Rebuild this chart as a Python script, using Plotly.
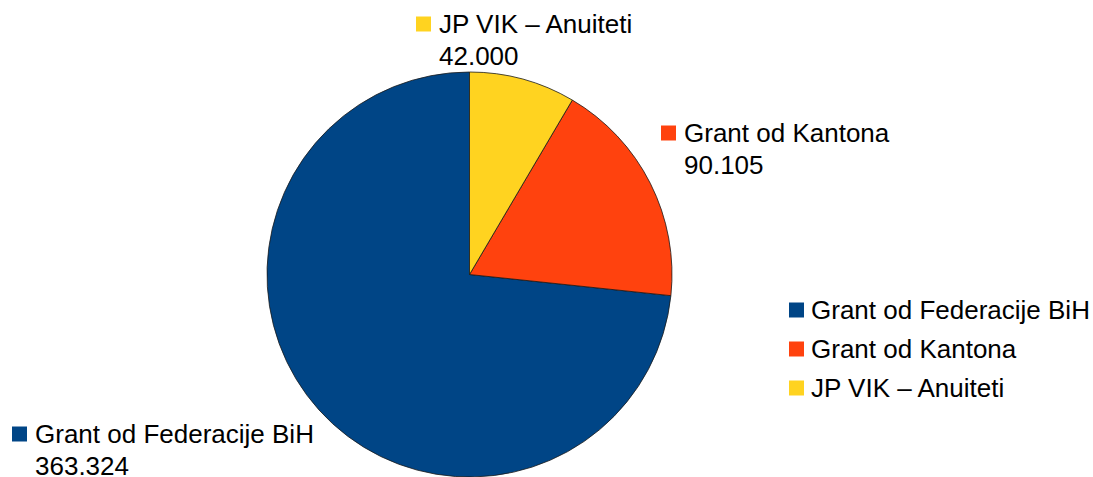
import plotly.graph_objects as go

# ---- data ----
labels = ["Grant od Federacije BiH", "Grant od Kantona", "JP VIK – Anuiteti"]
values = [363324, 90105, 42000]
colors = ["#004586", "#ff420e", "#ffd320"]

# ---- layout helpers ----
W, H = 1093, 477
FONT = "Liberation Sans, Arial, sans-serif"
FS = 26
SQ = 15


def fx(x):
    return x / W


def fy(y):
    return 1 - y / H


def fmt(v):
    return f"{v:,}".replace(",", ".")


# first (largest) slice ends where the smaller ones begin at 12 o'clock
start_angle = 360 * (values[1] + values[2]) / sum(values)

fig = go.Figure(
    go.Pie(
        labels=labels,
        values=values,
        sort=False,
        direction="counterclockwise",
        rotation=start_angle,
        marker=dict(colors=colors, line=dict(color="#1a1a1a", width=0.8)),
        textinfo="none",
        domain=dict(x=[fx(267), fx(672)], y=[fy(477), fy(72)]),
        showlegend=False,
    )
)

# positions of outside slice labels: (square left, line1 center y, line2 center y)
slice_label_pos = [(12, 434, 466), (661, 133, 165), (416, 24, 56)]
# legend: square left, row centre ys
legend_left = 789
legend_rows = [310, 349, 388]

annotations = []
shapes = []


def add_square(x_left, yc, color):
    shapes.append(
        dict(
            type="rect", xref="paper", yref="paper",
            x0=fx(x_left), x1=fx(x_left + SQ),
            y0=fy(yc + SQ / 2), y1=fy(yc - SQ / 2),
            fillcolor=color, line=dict(width=0),
        )
    )


def add_text(x_left, yc, text):
    annotations.append(
        dict(
            text=text, xref="paper", yref="paper",
            x=fx(x_left), y=fy(yc), xanchor="left", yanchor="middle",
            showarrow=False, font=dict(family=FONT, size=FS, color="#000000"),
        )
    )


for lab, val, col, (xl, y1, y2) in zip(labels, values, colors, slice_label_pos):
    add_square(xl, y1, col)
    add_text(xl + 21, y1, lab)
    add_text(xl + 21, y2, fmt(val))

for lab, col, yc in zip(labels, colors, legend_rows):
    add_square(legend_left, yc, col)
    add_text(legend_left + 20, yc, lab)

fig.update_layout(
    width=W,
    height=H,
    margin=dict(l=0, r=0, t=0, b=0),
    paper_bgcolor="white",
    plot_bgcolor="white",
    font=dict(family=FONT, size=FS, color="#000000"),
    annotations=annotations,
    shapes=shapes,
    showlegend=False,
)

fig.write_html(
    "out.html",
    config={"displayModeBar": False},
    post_script="document.body.style.margin='0';",
)
